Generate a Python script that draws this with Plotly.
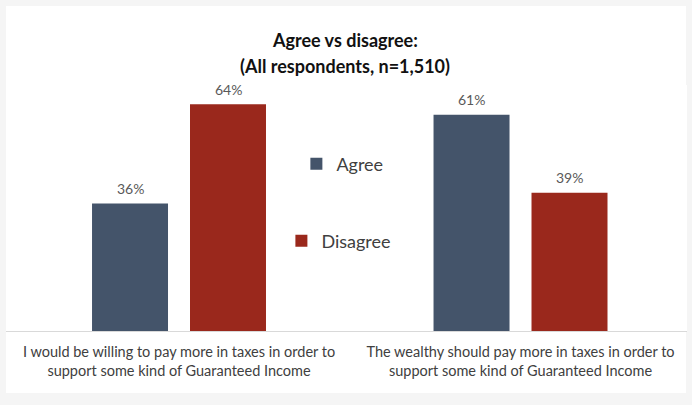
import plotly.graph_objects as go

categories = [
    "I would be willing to pay more in taxes in order to<br>support some kind of Guaranteed Income",
    "The wealthy should pay more in taxes in order to<br>support some kind of Guaranteed Income",
]
series_names = ["Agree", "Disagree"]
agree = [36, 61]
disagree = [64, 39]
title_line1 = "Agree vs disagree:"
title_line2 = "(All respondents, n=1,510)"

colors = {"Agree": "#44546A", "Disagree": "#9A281C"}
FONT = "Lato"

bar_w = 0.2225
offsets = {"Agree": -0.2547, "Disagree": 0.0322}
values = {"Agree": agree, "Disagree": disagree}
legends = {"Agree": "legend", "Disagree": "legend2"}

xpos = list(range(len(categories)))

fig = go.Figure()
for name in series_names:
    fig.add_trace(go.Bar(
        x=xpos, y=values[name], name=name,
        width=bar_w, offset=offsets[name],
        marker=dict(color=colors[name], line=dict(width=0)),
        legend=legends[name],
    ))

annotations = []
for name in series_names:
    for i, v in enumerate(values[name]):
        annotations.append(dict(
            x=i + offsets[name] + bar_w / 2, y=v, xref="x", yref="y",
            text=f"{v}%", showarrow=False, yanchor="middle", yshift=15,
            font=dict(family=FONT, size=14, color="#595959"),
        ))

annotations.append(dict(x=0.4985, y=1.181, xref="paper", yref="paper",
                        text=f"<b>{title_line1}</b>", showarrow=False,
                        yanchor="middle", xanchor="center",
                        font=dict(family=FONT, size=18, color="#111111")))
annotations.append(dict(x=0.4985, y=1.077, xref="paper", yref="paper",
                        text=f"<b>{title_line2}</b>", showarrow=False,
                        yanchor="middle", xanchor="center",
                        font=dict(family=FONT, size=18, color="#111111")))

fig.update_layout(
    width=692, height=405,
    margin=dict(l=6, r=5, t=85, b=74),
    paper_bgcolor="#f5f5f5",
    plot_bgcolor="white",
    barmode="overlay",
    showlegend=True,
    font=dict(family=FONT, color="#404040"),
    annotations=annotations,
    shapes=[dict(type="rect", xref="paper", yref="paper",
                 x0=0, x1=0.9985, y0=-0.252, y1=1.321,
                 fillcolor="white", line=dict(width=0), layer="below")],
    legend=dict(x=0.4264, y=0.679, xanchor="left", yanchor="middle",
                bgcolor="rgba(0,0,0,0)", font=dict(family=FONT, size=18, color="#404040")),
    legend2=dict(x=0.4044, y=0.366, xanchor="left", yanchor="middle",
                 bgcolor="rgba(0,0,0,0)", font=dict(family=FONT, size=18, color="#404040")),
    xaxis=dict(
        range=[-0.5066, 1.4875],
        tickvals=xpos, ticktext=categories,
        showline=True, linecolor="#d9d9d9", linewidth=1,
        showgrid=False, zeroline=False, ticks="",
        ticklabelstandoff=8,
        tickfont=dict(family=FONT, size=14.5, color="#404040"),
    ),
    yaxis=dict(range=[0, 69.4], visible=False, showgrid=False, zeroline=False),
)

fig.write_html("out.html")
